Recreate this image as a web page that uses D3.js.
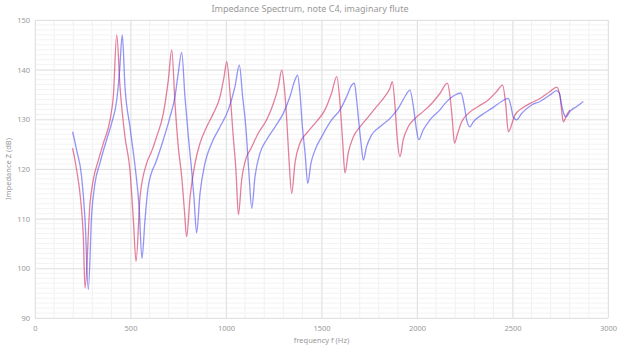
<!DOCTYPE html>
<html>
  <head>
    <meta charset="utf-8" />
    <title>Impedance Spectrum</title>
    <script src="https://d3js.org/d3.v7.min.js"></script>
    <style>
      body {
        margin: 0;
        background: #fff;
        font-family: "Noto Sans", sans-serif;
      }
      svg text {
        fill: #999;
      }
    </style>
  </head>
  <body>
    <svg width="620" height="351"></svg>

    <script>
      // values
      const redFreq = [197, 218, 239, 253, 262, 288, 305, 332, 358, 393, 410, 428, 445, 471, 497, 515, 529, 550, 585,
        610, 637, 672, 698, 716, 733, 750, 768, 782, 794, 812, 838, 864, 899, 934, 969, 990, 1004, 1021, 1038, 1052,
        1065, 1082, 1108, 1126, 1169, 1213, 1248, 1274, 1292, 1305, 1318, 1330, 1344, 1361, 1387, 1422, 1466, 1518,
        1553, 1580, 1597, 1610, 1623, 1640, 1667, 1702, 1745, 1789, 1832, 1859, 1871, 1885, 1897, 1911, 1928, 1954,
        1990, 2033, 2077, 2120, 2159, 2173, 2185, 2196, 2213, 2234, 2269, 2321, 2373, 2417, 2448, 2464, 2478, 2513,
        2548, 2592, 2644, 2696, 2731, 2749, 2757, 2766, 2784, 2801];
      const redZ = [124.2, 119.8, 113.8, 106.4, 96.0, 113.1, 117.8, 121.8, 125.2, 129.9, 134.6, 147.0, 136.6, 126.5,
        119.8, 109.8, 101.4, 114.4, 121.2, 123.5, 126.5, 131.2, 137.9, 144.0, 133.2, 124.5, 118.5, 111.8, 106.4, 114.4,
        121.2, 125.2, 128.5, 131.2, 134.6, 138.6, 141.6, 135.3, 126.5, 119.8, 110.8, 117.8, 122.5, 123.8, 127.2, 129.9,
        133.2, 136.6, 139.9, 136.6, 129.9, 121.8, 115.1, 121.2, 125.2, 127.2, 129.2, 131.9, 135.3, 138.6, 133.2, 126.0,
        119.2, 123.2, 126.5, 128.5, 130.5, 132.6, 134.6, 136.3, 137.6, 132.6, 125.9, 122.5, 125.9, 128.5, 130.2, 131.6,
        133.2, 135.2, 137.3, 134.6, 129.9, 125.2, 127.2, 129.5, 131.2, 132.6, 133.9, 135.6, 136.9, 133.2, 127.5, 130.9,
        132.2, 133.2, 134.2, 135.6, 136.5, 134.6, 131.9, 129.5, 130.9, 131.9];

      const blueFreq = [197, 218, 244, 262, 279, 297, 314, 340, 375, 401, 428, 442, 457, 471, 497, 524, 545, 560, 576,
        593, 637, 672, 707, 733, 750, 768, 785, 803, 820, 832, 846, 864, 890, 925, 969, 1012, 1047, 1070, 1087, 1105,
        1120, 1135, 1152, 1178, 1213, 1257, 1300, 1335, 1361, 1375, 1387, 1400, 1414, 1428, 1445, 1466, 1501, 1553,
        1597, 1632, 1658, 1672, 1684, 1696, 1707, 1719, 1736, 1763, 1806, 1859, 1902, 1937, 1963, 1981, 1995, 2009,
        2033, 2068, 2120, 2147, 2199, 2230, 2248, 2260, 2277, 2295, 2339, 2391, 2443, 2478, 2492, 2504, 2522, 2548,
        2600, 2644, 2696, 2731, 2745, 2757, 2771, 2780, 2801, 2836, 2871];
      const blueZ = [127.5, 123.8, 118.5, 109.8, 95.7, 111.1, 117.1, 121.2, 125.9, 129.2, 133.9, 139.3, 147.0, 136.6,
        128.5, 120.5, 112.4, 102.0, 109.8, 116.5, 121.8, 125.9, 130.5, 134.6, 139.3, 143.5, 134.6, 126.5, 119.8, 114.4,
        107.1, 115.1, 121.2, 125.2, 128.5, 131.9, 136.6, 140.9, 134.6, 127.9, 119.2, 112.1, 118.5, 123.2, 125.9, 128.5,
        131.2, 134.6, 137.9, 138.9, 135.3, 128.5, 123.2, 117.1, 121.2, 123.8, 126.5, 129.9, 131.9, 134.6, 136.9, 137.3,
        133.9, 129.2, 125.2, 121.8, 124.5, 126.9, 128.5, 130.2, 132.2, 134.6, 135.9, 132.6, 128.5, 125.9, 127.9, 129.9,
        131.9, 133.2, 134.9, 135.3, 132.6, 129.9, 128.5, 129.5, 130.9, 132.2, 133.6, 134.2, 132.6, 130.5, 129.9, 131.2,
        132.9, 133.6, 134.9, 135.8, 135.3, 132.9, 130.9, 130.5, 131.6, 132.6, 133.6];

      const xTicks = [0, 500, 1000, 1500, 2000, 2500, 3000];
      const yTicks = [90, 100, 110, 120, 130, 140, 150];

      const svg = d3.select("svg");
      const margin = { top: 20, right: 12, bottom: 33, left: 35 };
      const width = +svg.attr("width") - margin.left - margin.right;
      const height = +svg.attr("height") - margin.top - margin.bottom;

      const x = d3.scaleLinear().domain([0, 3000]).range([0, width]);
      const y = d3.scaleLinear().domain([90, 150]).range([height, 0]);

      const g = svg.append("g").attr("transform", `translate(${margin.left},${margin.top})`);

      // minor grid
      g.append("g").selectAll("line").data(d3.range(0, 3001, 100))
        .join("line")
        .attr("x1", d => x(d)).attr("x2", d => x(d))
        .attr("y1", 0).attr("y2", height)
        .attr("stroke", "#f0f0f0");
      g.append("g").selectAll("line").data(d3.range(90, 151, 1))
        .join("line")
        .attr("x1", 0).attr("x2", width)
        .attr("y1", d => y(d)).attr("y2", d => y(d))
        .attr("stroke", "#f3f3f3");

      // major grid + labels via axes
      const xAxis = g.append("g")
        .attr("transform", `translate(0,${height})`)
        .call(d3.axisBottom(x).tickValues(xTicks).tickFormat(d3.format("d")).tickSize(-height).tickPadding(8));
      const yAxis = g.append("g")
        .call(d3.axisLeft(y).tickValues(yTicks).tickSize(-width).tickPadding(5));

      [xAxis, yAxis].forEach(a => {
        a.select(".domain").remove();
        a.selectAll(".tick line").attr("stroke", "#e2e2e2");
        a.selectAll(".tick text")
          .attr("fill", "#999")
          .style("font-family", "Noto Sans, sans-serif")
          .style("font-size", "7.5px");
      });

      const line = d3.line()
        .x(d => x(d[0]))
        .y(d => y(d[1]))
        .curve(d3.curveMonotoneX);

      const series = [
        { f: redFreq, z: redZ, color: "rgba(210, 50, 95, 0.62)" },
        { f: blueFreq, z: blueZ, color: "rgba(60, 60, 240, 0.55)" }
      ];

      g.selectAll("path.series").data(series)
        .join("path")
        .attr("class", "series")
        .attr("fill", "none")
        .attr("stroke", d => d.color)
        .attr("stroke-width", 1.3)
        .attr("d", d => line(d.f.map((v, i) => [v, d.z[i]])));

      svg.append("text")
        .attr("x", 310).attr("y", 12)
        .attr("text-anchor", "middle")
        .style("font-size", "9px")
        .text("Impedance Spectrum, note C4, imaginary flute");

      svg.append("text")
        .attr("x", margin.left + width / 2).attr("y", 343)
        .attr("text-anchor", "middle")
        .style("font-size", "7.5px")
        .text("frequency f (Hz)");

      svg.append("text")
        .attr("transform", `translate(11,${margin.top + height / 2}) rotate(-90)`)
        .attr("text-anchor", "middle")
        .style("font-size", "7.5px")
        .text("Impedance Z (dB)");
    </script>
  </body>
</html>
